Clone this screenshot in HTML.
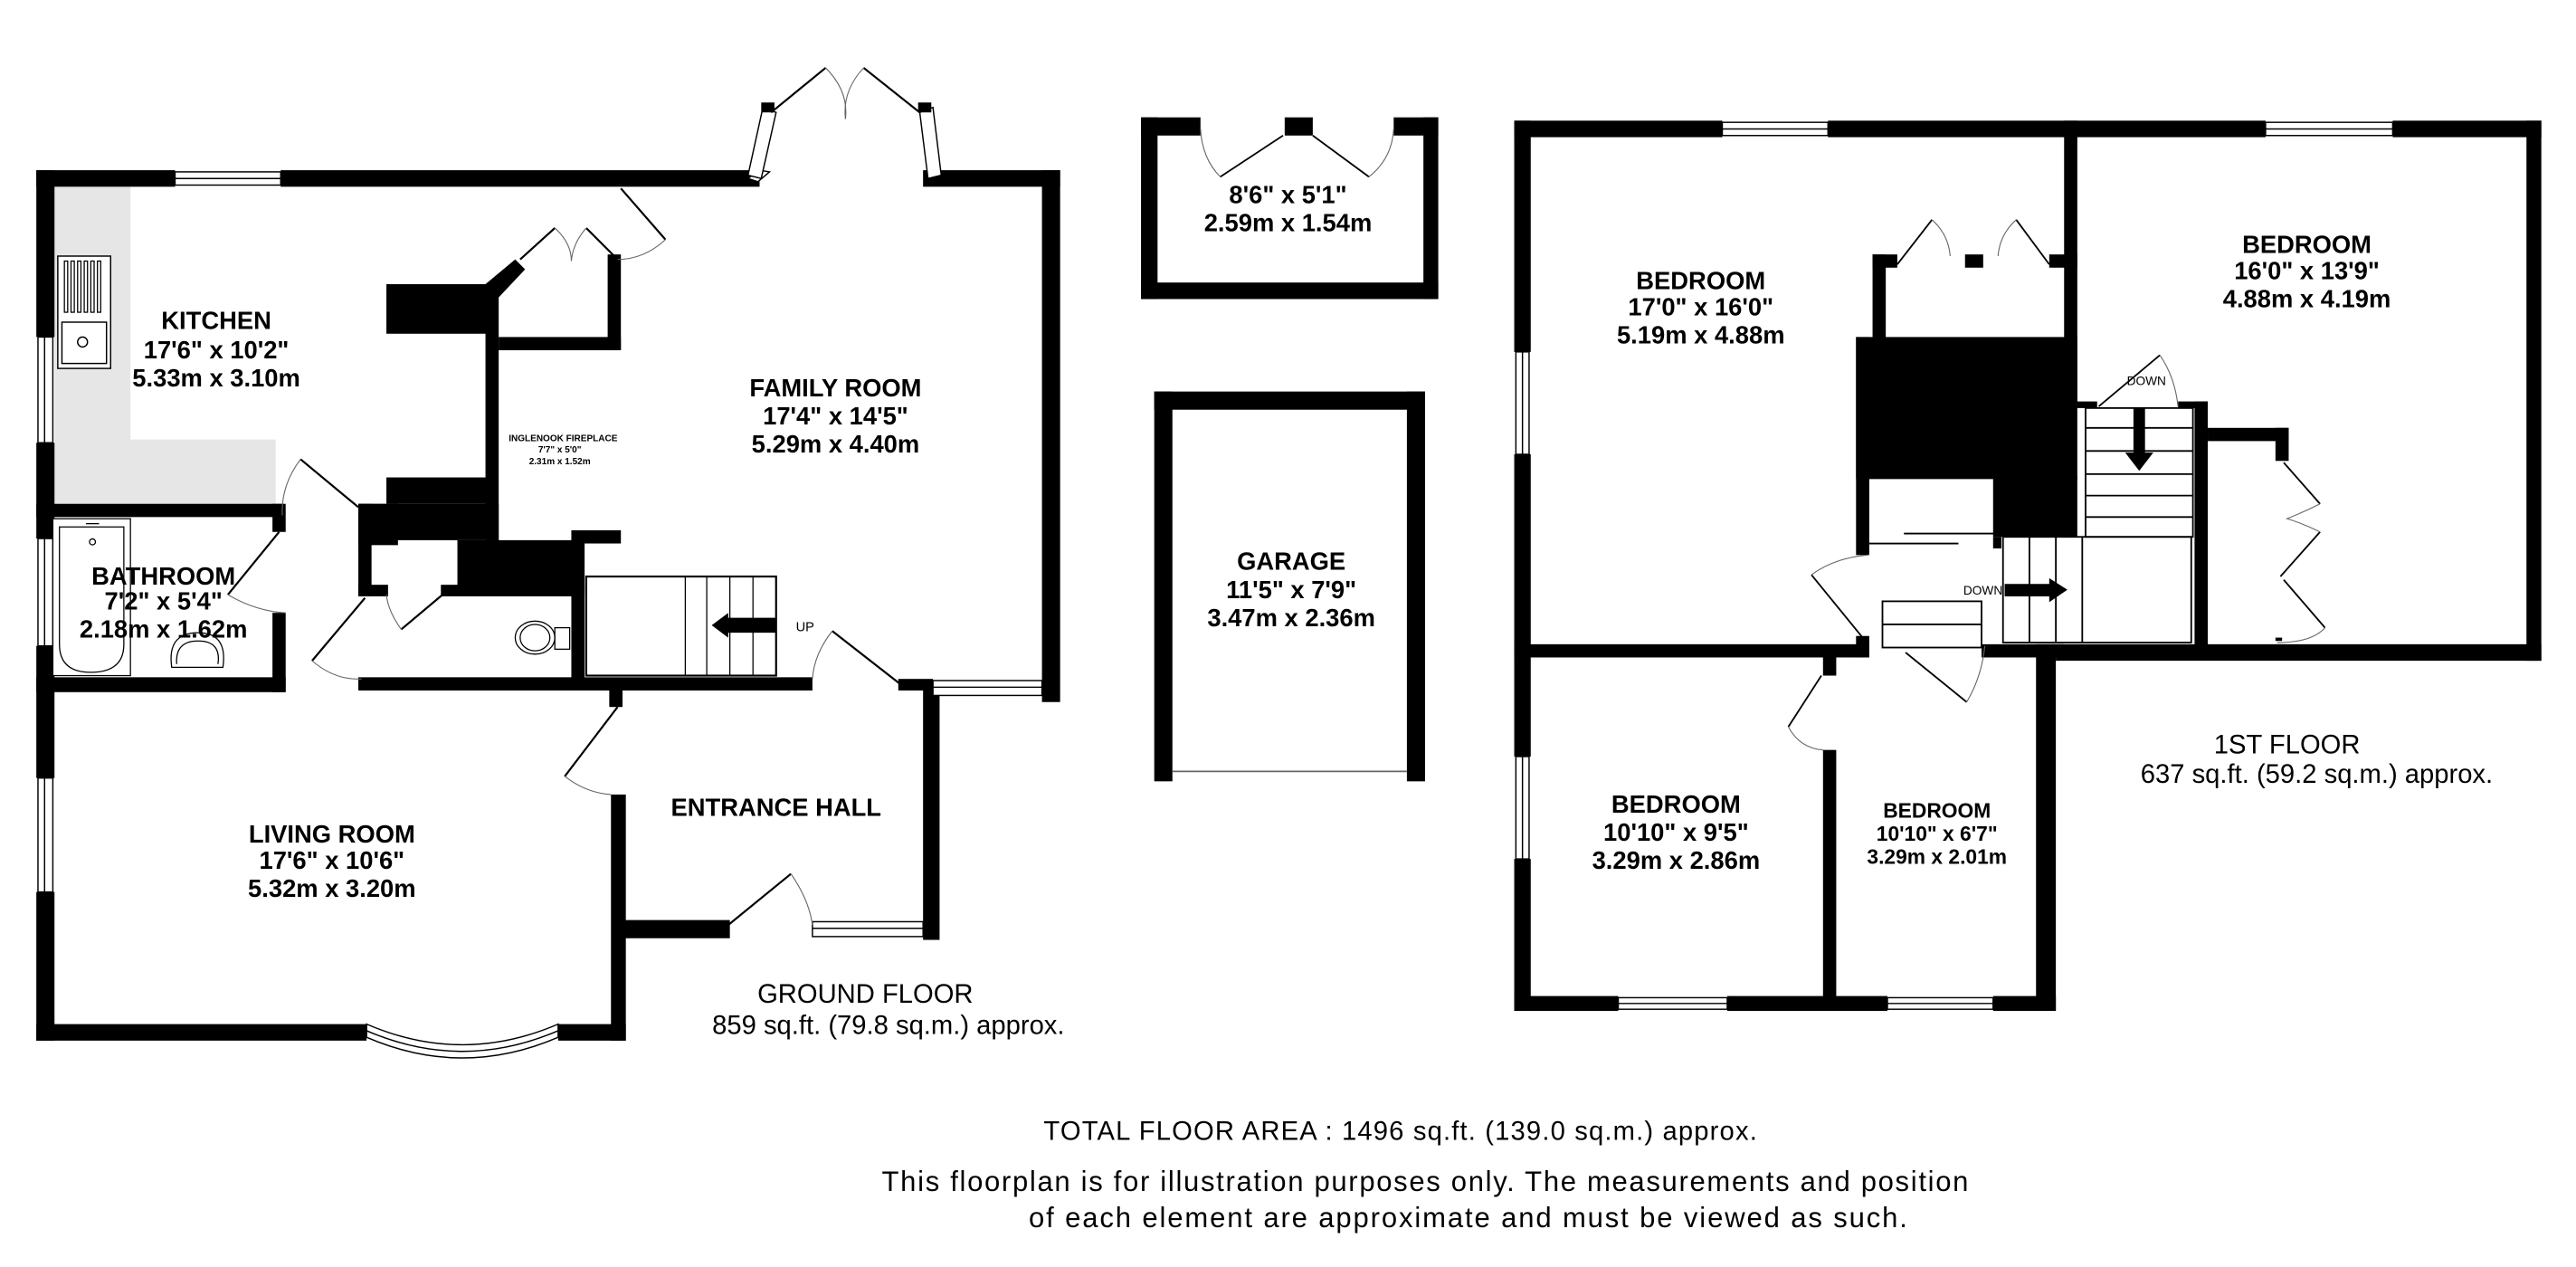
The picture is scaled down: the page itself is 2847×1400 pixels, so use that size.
<!DOCTYPE html>
<html><head><meta charset="utf-8"><style>
html,body{margin:0;padding:0;background:#fff;}
svg{display:block;}
text{font-family:"Liberation Sans",Arial,sans-serif;fill:#000;}
.b{font-weight:bold;}
</style></head><body>
<svg width="2847" height="1400" viewBox="0 0 1560 767" xmlns="http://www.w3.org/2000/svg">
<rect width="1560" height="767" fill="#fff"/>
<path d="M33 113 H79 V266 H167 V306 H33 Z" fill="#e6e6e6"/>
<g fill="#000">
<rect x="22" y="103" width="84" height="10"/>
<rect x="170" y="103" width="290" height="10"/>
<rect x="559" y="103" width="83" height="10"/>
<rect x="22" y="103" width="11" height="101"/>
<rect x="22" y="268" width="11" height="58"/>
<rect x="22" y="391" width="11" height="80"/>
<rect x="22" y="540" width="11" height="90"/>
<rect x="631" y="103" width="11" height="322"/>
<rect x="544" y="411" width="21" height="7"/>
<rect x="559" y="415" width="10" height="154"/>
<rect x="372" y="557" width="70" height="11"/>
<rect x="370" y="481" width="9" height="149"/>
<rect x="369" y="417" width="8" height="11"/>
<rect x="22" y="620" width="200" height="10"/>
<rect x="338" y="620" width="41" height="10"/>
<rect x="22" y="305" width="150" height="8"/>
<rect x="165" y="305" width="8" height="17"/>
<rect x="165" y="371" width="8" height="48"/>
<rect x="22" y="410" width="151" height="9"/>
<rect x="217" y="410" width="275" height="8"/>
<rect x="234" y="172" width="61" height="30"/>
<rect x="294" y="172" width="8" height="155"/>
<polygon points="294,172 302,180 318,163 312,157"/>
<rect x="302" y="204" width="74" height="8"/>
<rect x="368" y="154" width="8" height="58"/>
<rect x="234" y="289" width="61" height="16"/>
<rect x="217" y="305" width="85" height="22"/>
<rect x="217" y="305" width="8" height="56"/>
<rect x="217" y="354" width="18" height="7"/>
<rect x="267" y="354" width="87" height="7"/>
<rect x="277" y="327" width="77" height="30"/>
<rect x="346" y="321" width="30" height="8"/>
<rect x="346" y="327" width="8" height="90"/>
<rect x="369" y="417" width="7" height="10"/>
<rect x="217" y="305" width="24" height="25"/>
</g>
<g fill="#fff" stroke="#000" stroke-width="0.8">
<rect x="106" y="104" width="64" height="8"/><line x1="106" y1="108" x2="170" y2="108"/>
<rect x="23" y="204" width="9" height="64"/><line x1="27" y1="204" x2="27" y2="268"/>
<rect x="23" y="326" width="9" height="65"/><line x1="27" y1="326" x2="27" y2="391"/>
<rect x="23" y="471" width="9" height="69"/><line x1="27" y1="471" x2="27" y2="540"/>
<rect x="565" y="412" width="66" height="9"/><line x1="565" y1="416" x2="631" y2="416"/>
<rect x="492" y="558" width="67" height="9"/><line x1="492" y1="562" x2="559" y2="562"/>
<path d="M222 620 Q280 645 338 620 L338 628 Q280 653 222 628 Z"/>
<path d="M222 624 Q280 649 338 624" fill="none"/>
<polygon points="460,103 466,104 459,110 453,108"/>
<polygon points="462,65 470,68 461,108 453,106"/>
<polygon points="557,68 565,65 570,106 562,108"/>
</g>
<g fill="#000"><rect x="461" y="62" width="8" height="6"/><rect x="556" y="62" width="8" height="6"/></g>
<g stroke="#000" stroke-width="1.2" fill="none">
<line x1="467" y1="68" x2="500" y2="41"/><line x1="557" y1="68" x2="523" y2="41"/>
<line x1="376" y1="114" x2="403" y2="145"/>
<line x1="315" y1="157" x2="336" y2="138"/><line x1="355" y1="138" x2="372" y2="155"/>
<line x1="182" y1="278" x2="217" y2="307"/>
<line x1="169" y1="322" x2="138" y2="360"/>
<line x1="221" y1="362" x2="189" y2="400"/>
<line x1="268" y1="360" x2="243" y2="381"/>
<line x1="374" y1="428" x2="342" y2="470"/>
<line x1="441" y1="560" x2="479" y2="529"/>
<line x1="504" y1="382" x2="545" y2="414"/>
</g>
<g stroke="#666" stroke-width="0.6" fill="none">
<path d="M500 41 Q514 55 512 72"/><path d="M523 41 Q510 55 512 72"/>
<path d="M403 145 Q390 157 374 157"/>
<path d="M336 138 Q346 147 346 158"/><path d="M355 138 Q347 147 346 158"/>
<path d="M182 278 Q170 294 171 312"/>
<path d="M138 360 Q155 370 173 371"/>
<path d="M189 400 Q203 412 219 411"/>
<path d="M243 381 Q235 370 234 360"/>
<path d="M342 470 Q355 480 370 481"/>
<path d="M479 529 Q490 545 492 560"/>
<path d="M504 382 Q493 396 492 411"/>
</g>
<g stroke="#000" stroke-width="0.8" fill="#fff">
<rect x="35" y="155" width="32" height="68"/>
<rect x="37.5" y="195" width="27" height="25"/>
<circle cx="50" cy="207" r="3"/>
</g>
<g stroke="#000" stroke-width="0.7" fill="none">
<rect x="39" y="158" width="2" height="31"/><rect x="43" y="158" width="2" height="31"/><rect x="47" y="158" width="2" height="31"/><rect x="51" y="158" width="2" height="31"/><rect x="55" y="158" width="2" height="31"/><rect x="59" y="158" width="2" height="31"/>
<rect x="32" y="314" width="47" height="95" fill="#fff"/>
<path d="M36 319 H75 V390 Q75 407 55 407 Q36 407 36 390 Z"/>
<circle cx="56" cy="328" r="1.8"/>
<line x1="52" y1="317" x2="60" y2="317"/>
<path d="M104 404 Q101 383 120 383 Q138 383 135 404 Z"/>
<path d="M107 402 Q106 388 120 388 Q134 388 132 402"/>
<ellipse cx="324" cy="386" rx="12" ry="10"/>
<ellipse cx="324" cy="386" rx="9" ry="8"/>
<rect x="336" y="380" width="9" height="13"/>
<rect x="355" y="349" width="115" height="60" stroke-width="1.2"/>
<line x1="415" y1="349" x2="415" y2="409"/><line x1="428" y1="349" x2="428" y2="409"/>
<line x1="442" y1="349" x2="442" y2="409"/><line x1="456" y1="349" x2="456" y2="409"/>
</g>
<polygon points="470,374 441,374 441,371 431,378.5 441,386 441,383 470,383" fill="#000"/>
<text x="482" y="382" font-size="8">UP</text>
<g class="b" text-anchor="middle" font-size="15">
<text x="131" y="199">KITCHEN</text>
<text x="131" y="217">17'6"  x 10'2"</text>
<text x="131" y="234">5.33m  x 3.10m</text>
<text x="506" y="240">FAMILY ROOM</text>
<text x="506" y="257">17'4"  x 14'5"</text>
<text x="506" y="274">5.29m  x 4.40m</text>
<text x="99" y="354">BATHROOM</text>
<text x="99" y="369">7'2"  x 5'4"</text>
<text x="99" y="386">2.18m  x 1.62m</text>
<text x="201" y="510">LIVING ROOM</text>
<text x="201" y="526">17'6"  x 10'6"</text>
<text x="201" y="543">5.32m  x 3.20m</text>
<text x="470" y="494">ENTRANCE HALL</text>
<text x="780" y="123">8'6"  x 5'1"</text>
<text x="780" y="140">2.59m  x 1.54m</text>
<text x="782" y="345">GARAGE</text>
<text x="782" y="362">11'5"  x 7'9"</text>
<text x="782" y="379">3.47m  x 2.36m</text>
<text x="1030" y="175">BEDROOM</text>
<text x="1030" y="191">17'0"  x 16'0"</text>
<text x="1030" y="208">5.19m  x 4.88m</text>
<text x="1397" y="153">BEDROOM</text>
<text x="1397" y="169">16'0"  x 13'9"</text>
<text x="1397" y="186">4.88m  x 4.19m</text>
<text x="1015" y="492">BEDROOM</text>
<text x="1015" y="509">10'10"  x 9'5"</text>
<text x="1015" y="526">3.29m  x 2.86m</text>
</g>
<g class="b" text-anchor="middle" font-size="12.5">
<text x="1173" y="495">BEDROOM</text>
<text x="1173" y="509">10'10"  x 6'7"</text>
<text x="1173" y="523">3.29m  x 2.01m</text>
</g>
<g class="b" text-anchor="middle" font-size="5.5">
<text x="341" y="267">INGLENOOK FIREPLACE</text>
<text x="339" y="274">7'7"  x 5'0"</text>
<text x="339" y="281">2.31m  x 1.52m</text>
</g>
<g text-anchor="middle" font-size="16">
<text x="524" y="607">GROUND FLOOR</text>
<text x="538" y="626">859 sq.ft. (79.8 sq.m.) approx.</text>
<text x="1385" y="456">1ST FLOOR</text>
<text x="1403" y="474">637 sq.ft. (59.2 sq.m.) approx.</text>
<text x="848" y="690" textLength="432">TOTAL FLOOR AREA : 1496 sq.ft. (139.0 sq.m.) approx.</text>
</g>
<g text-anchor="middle" font-size="17">
<text x="863" y="721" textLength="658">This floorplan is for illustration purposes only. The measurements and position</text>
<text x="889" y="743" textLength="532">of each element are approximate and must be viewed as such.</text>
</g>
<g fill="#000">
<rect x="691" y="71" width="36" height="11"/>
<rect x="778" y="71" width="17" height="11"/>
<rect x="844" y="71" width="27" height="11"/>
<rect x="691" y="71" width="10" height="110"/>
<rect x="862" y="71" width="9" height="110"/>
<rect x="691" y="171" width="180" height="10"/>
<rect x="699" y="237" width="164" height="11"/>
<rect x="699" y="237" width="11" height="236"/>
<rect x="852" y="237" width="11" height="236"/>
</g>
<line x1="710" y1="467" x2="852" y2="467" stroke="#666" stroke-width="1"/>
<g stroke="#000" stroke-width="1" fill="none">
<line x1="739" y1="107" x2="777" y2="82"/><line x1="829" y1="107" x2="795" y2="82"/>
</g>
<g stroke="#666" stroke-width="0.6" fill="none">
<path d="M727 78 Q728 96 739 107"/><path d="M844 78 Q843 96 829 107"/>
</g>
<g fill="#000">
<rect x="917" y="73" width="126" height="10"/>
<rect x="1107" y="73" width="265" height="10"/>
<rect x="1449" y="73" width="90" height="10"/>
<rect x="917" y="73" width="10" height="140"/>
<rect x="917" y="275" width="10" height="183"/>
<rect x="917" y="520" width="10" height="92"/>
<rect x="1530" y="73" width="9" height="327"/>
<rect x="1245" y="390" width="294" height="10"/>
<rect x="917" y="390" width="214" height="8"/>
<rect x="1124" y="385" width="8" height="13"/>
<rect x="1200" y="390" width="50" height="8"/>
<rect x="1233" y="390" width="12" height="222"/>
<rect x="917" y="603" width="63" height="9"/>
<rect x="1046" y="603" width="97" height="9"/>
<rect x="1207" y="603" width="38" height="9"/>
<rect x="1104" y="395" width="8" height="14"/>
<rect x="1104" y="454" width="8" height="155"/>
<rect x="1250" y="73" width="8" height="174"/>
<rect x="1134" y="154" width="8" height="52"/>
<rect x="1134" y="154" width="15" height="8"/>
<rect x="1190" y="154" width="11" height="8"/>
<rect x="1241" y="154" width="17" height="8"/>
<rect x="1124" y="204" width="134" height="86"/>
<rect x="1207" y="288" width="51" height="37"/>
<rect x="1124" y="204" width="8" height="132"/>
<rect x="1207" y="325" width="5" height="7"/>
<rect x="1258" y="243" width="12" height="4"/>
<rect x="1319" y="243" width="18" height="4"/>
<rect x="1329" y="243" width="8" height="155"/>
<rect x="1337" y="259" width="49" height="8"/>
<rect x="1378" y="259" width="8" height="20"/>
<rect x="1378" y="386" width="4" height="2"/>
</g>
<g fill="#fff" stroke="#000" stroke-width="0.8">
<rect x="1043" y="74" width="64" height="8"/><line x1="1043" y1="78" x2="1107" y2="78"/>
<rect x="1372" y="74" width="77" height="8"/><line x1="1372" y1="78" x2="1449" y2="78"/>
<rect x="918" y="213" width="8" height="62"/><line x1="922" y1="213" x2="922" y2="275"/>
<rect x="918" y="458" width="8" height="62"/><line x1="922" y1="458" x2="922" y2="520"/>
<rect x="980" y="604" width="66" height="7"/><line x1="980" y1="607.5" x2="1046" y2="607.5"/>
<rect x="1143" y="604" width="64" height="7"/><line x1="1143" y1="607.5" x2="1207" y2="607.5"/>
</g>
<g stroke="#000" stroke-width="1" fill="none">
<line x1="1149" y1="160" x2="1170" y2="133"/><line x1="1241" y1="160" x2="1221" y2="133"/>
<rect x="1263" y="247" width="65" height="78"/>
<line x1="1263" y1="259" x2="1328" y2="259"/><line x1="1263" y1="273" x2="1328" y2="273"/>
<line x1="1263" y1="287" x2="1328" y2="287"/><line x1="1263" y1="300" x2="1328" y2="300"/>
<line x1="1263" y1="313" x2="1328" y2="313"/>
<rect x="1213" y="325" width="114" height="64"/>
<line x1="1229" y1="325" x2="1229" y2="389"/><line x1="1245" y1="325" x2="1245" y2="389"/>
<line x1="1261" y1="325" x2="1261" y2="389"/>
<line x1="1153" y1="323" x2="1208" y2="323"/><line x1="1132" y1="329" x2="1186" y2="329"/>
<rect x="1140" y="364" width="60" height="28" fill="#fff"/>
<line x1="1140" y1="378" x2="1200" y2="378"/>
<line x1="1097" y1="348" x2="1128" y2="386"/>
<line x1="1154" y1="395" x2="1191" y2="425"/>
<line x1="1103" y1="409" x2="1083" y2="440"/>
<line x1="1271" y1="246" x2="1308" y2="215"/>
<line x1="1383" y1="280" x2="1405" y2="305"/><line x1="1405" y1="322" x2="1381" y2="349"/>
<line x1="1383" y1="351" x2="1408" y2="380"/>
</g>
<g stroke="#666" stroke-width="0.6" fill="none">
<path d="M1170 133 Q1180 142 1181 155"/><path d="M1221 133 Q1211 142 1210 155"/>
<path d="M1131 336 Q1110 338 1097 348"/>
<path d="M1191 425 Q1200 410 1202 391"/>
<path d="M1083 440 Q1090 453 1104 454"/>
<path d="M1308 215 Q1317 228 1319 246"/>
<path d="M1405 305 Q1395 310 1385 314 Q1395 317 1405 322"/>
<path d="M1408 380 Q1400 389 1379 389"/>
</g>
<polygon points="1292,247 1299,247 1299,274 1304,274 1295.5,285 1287,274 1292,274" fill="#000"/>
<polygon points="1214,353.5 1241,353.5 1241,350 1252,357 1241,364.5 1241,361 1214,361" fill="#000"/>
<text x="1189" y="360" font-size="7.5">DOWN</text>
<text x="1288" y="233" font-size="7.5">DOWN</text>
</svg>
</body></html>
